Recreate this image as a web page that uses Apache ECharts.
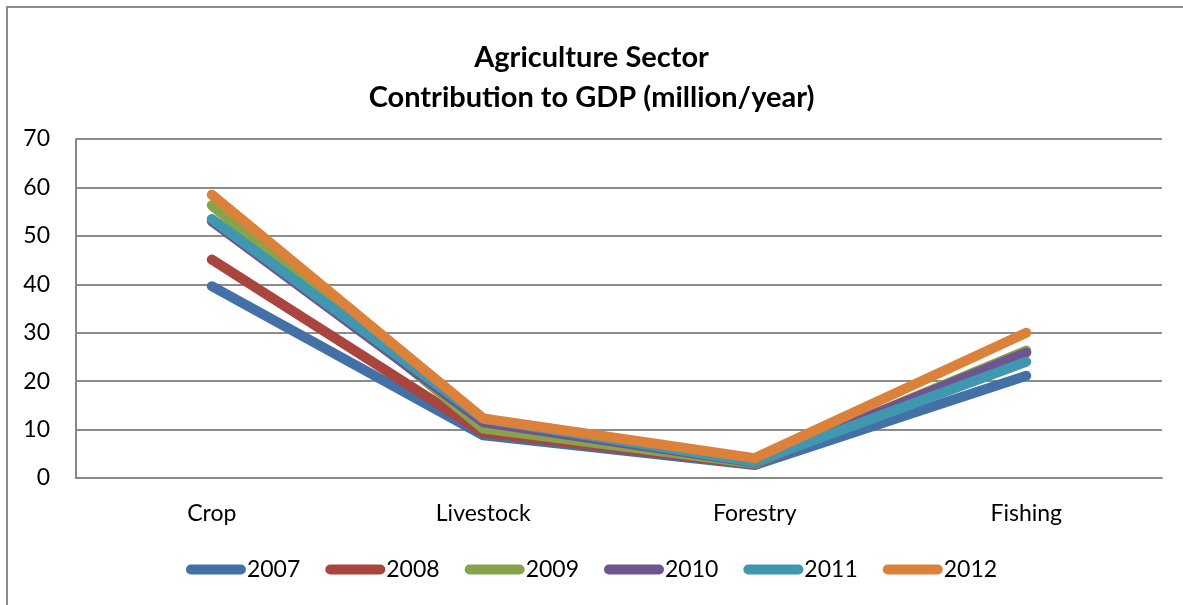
<!DOCTYPE html>
<html>
<head>
<meta charset="utf-8">
<script src="https://cdn.jsdelivr.net/npm/echarts@6/dist/echarts.min.js"></script>
<style>
  html, body { margin: 0; padding: 0; background: #fff; }
  #chart { width: 1183px; height: 605px; }
</style>
</head>
<body>
<div id="chart"></div>
<script>
// Agriculture sector contribution to GDP, by sub-sector and year
const categories = ['Crop', 'Livestock', 'Forestry', 'Fishing'];
const years = ['2007', '2008', '2009', '2010', '2011', '2012'];
const v2007 = [39.6, 8.8, 2.7, 21.1];
const v2008 = [45.1, 9.4, 2.9, 26.0];
const v2009 = [56.3, 10.2, 3.0, 26.3];
const v2010 = [53.0, 11.5, 3.2, 25.9];
const v2011 = [53.5, 12.2, 3.3, 24.0];
const v2012 = [58.5, 12.3, 4.1, 30.0];
const yTicks = [0, 10, 20, 30, 40, 50, 60, 70];

const seriesValues = [v2007, v2008, v2009, v2010, v2011, v2012];
const colors = ['#4470A8', '#A9443F', '#87A34B', '#6E5490', '#3F97B0', '#DC813A'];
const font = 'Lato, "Open Sans", sans-serif';

const chart = echarts.init(document.getElementById('chart'), null, { renderer: 'canvas' });

chart.setOption({
  animation: false,
  backgroundColor: '#fff',
  color: colors,
  graphic: [{
    type: 'rect',
    shape: { x: 7, y: 7, width: 1300, height: 700 },
    style: { fill: 'none', stroke: '#8a8a8a', lineWidth: 2 },
    silent: true
  }],
  title: {
    text: 'Agriculture Sector\nContribution to GDP (million/year)',
    left: 'center',
    top: 33,
    textStyle: {
      fontFamily: font,
      fontWeight: 'bold',
      fontSize: 29,
      lineHeight: 40,
      color: '#000'
    }
  },
  legend: {
    data: years,
    bottom: 19,
    left: 'center',
    itemWidth: 60,
    itemHeight: 10,
    itemGap: 25,
    icon: 'path://M5,0 H55 A5,5 0 0 1 55,10 H5 A5,5 0 0 1 5,0 Z',
    textStyle: { fontFamily: font, fontSize: 23, color: '#000', padding: [0, 0, 0, -4] }
  },
  grid: { left: 76, right: 21, top: 139, bottom: 127, containLabel: false },
  xAxis: {
    type: 'category',
    data: categories,
    boundaryGap: true,
    axisLine: { show: true, lineStyle: { color: '#888', width: 2 } },
    axisTick: { show: false },
    axisLabel: { fontFamily: font, fontSize: 23, color: '#000', margin: 24 }
  },
  yAxis: {
    type: 'value',
    min: yTicks[0],
    max: yTicks[yTicks.length - 1],
    interval: 10,
    axisLine: { show: true, lineStyle: { color: '#888', width: 2 } },
    axisTick: { show: false },
    axisLabel: { fontFamily: font, fontSize: 23, color: '#000', margin: 26 },
    splitLine: { show: true, lineStyle: { color: '#8c8c8c', width: 2 } }
  },
  series: years.map((y, i) => ({
    name: y,
    type: 'line',
    data: seriesValues[i],
    showSymbol: false,
    symbol: 'none',
    lineStyle: { width: 10, cap: 'round', join: 'round', color: colors[i] },
    itemStyle: { color: colors[i] }
  }))
});
</script>
</body>
</html>
